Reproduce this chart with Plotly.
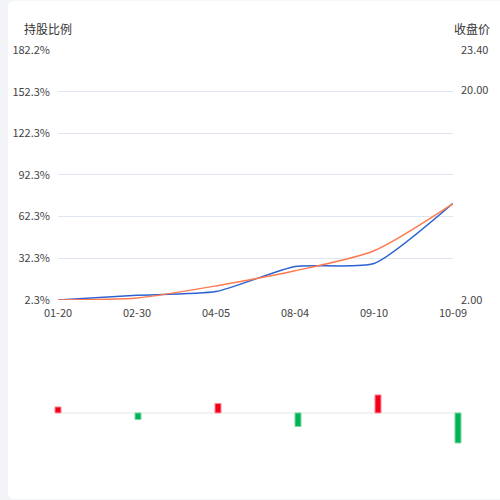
import plotly.graph_objects as go

# data
dates = ["01-20", "02-30", "04-05", "08-04", "09-10", "10-09"]
hold_ratio = [2.3, 5.6, 8.3, 26.4, 28.5, 71.9]       # 持股比例 (%)
close_price = [2.00, 2.17, 3.20, 4.49, 6.21, 10.25]  # 收盘价
ratio_change = [0.6, -0.65, 0.95, -1.35, 1.8, -3.0]

left_ticktext = ["2.3%", "32.3%", "62.3%", "92.3%", "122.3%", "152.3%", "182.2%"]
right_tickvals = [2.00, 20.00, 23.40]
right_ticktext = ["2.00", "20.00", "23.40"]

W, H = 500, 500
ML, MR, MT, MB = 50, 38, 50, 2
PW, PH = W - ML - MR, H - MT - MB
PAGE_BG = "#f3f4f8"
YS = 1.0163  # the page comes out a little squeezed vertically


def px_x(x):
    return (x - ML) / PW


def px_y(y):
    return (H - MB - y * YS) / PH


y_min, y_max = 2.3, 182.2
left_tickvals = [y_min + i * (y_max - y_min) / 6 for i in range(7)]

TEXT = "#444444"
FONT = "Noto Sans CJK SC"

fig = go.Figure()

fig.add_trace(go.Scatter(
    x=dates, y=hold_ratio, mode="lines",
    line=dict(color="#2c62d0", width=1.5, shape="spline", smoothing=0.55),
    xaxis="x", yaxis="y", name="持股比例", hoverinfo="skip",
))
fig.add_trace(go.Scatter(
    x=dates, y=close_price, mode="lines",
    line=dict(color="#ff7a50", width=1.5, shape="spline", smoothing=0.7),
    xaxis="x", yaxis="y2", name="收盘价", hoverinfo="skip",
))

bar_colors = ["#f5001a" if v >= 0 else "#00b356" for v in ratio_change]
edge_colors = ["#ff8a95" if v >= 0 else "#7ed6a4" for v in ratio_change]
fig.add_trace(go.Bar(
    x=dates, y=ratio_change, xaxis="x2", yaxis="y3", width=0.075,
    marker=dict(color=bar_colors, line=dict(color=edge_colors, width=1)),
    hoverinfo="skip",
))

# card background with rounded left corners
r = 7
x0, x1 = px_x(8), px_x(W + 5)
yt, yb = px_y(0), px_y(498)
rx, ry = r / PW, r / PH
card = (f"M {x1},{yt} L {x0 + rx},{yt} Q {x0},{yt} {x0},{yt - ry} "
        f"L {x0},{yb + ry} Q {x0},{yb} {x0 + rx},{yb} L {x1},{yb} Z")

fig.update_layout(
    width=W, height=H,
    margin=dict(l=ML, r=MR, t=MT, b=MB),
    paper_bgcolor=PAGE_BG,
    plot_bgcolor="rgba(0,0,0,0)",
    showlegend=False,
    font=dict(family=FONT, size=11, color=TEXT),
    xaxis=dict(
        domain=[px_x(58), px_x(453)], anchor="y", type="category",
        range=[0, 5], showgrid=False, showline=False, zeroline=False,
        ticks="", ticklabelstandoff=5, fixedrange=True,
    ),
    yaxis=dict(
        domain=[px_y(299), 1], anchor="x", range=[y_min, y_max],
        tickvals=left_tickvals, ticktext=left_ticktext,
        showgrid=True, gridcolor="#e0e6f1", gridwidth=1,
        zeroline=False, showline=False, ticks="", ticklabelstandoff=7,
        fixedrange=True,
    ),
    yaxis2=dict(
        overlaying="y", side="right", anchor="x", range=[2.0, 23.4],
        tickvals=right_tickvals, ticktext=right_ticktext,
        showgrid=False, zeroline=False, showline=False, ticks="",
        ticklabelstandoff=7, fixedrange=True,
    ),
    xaxis2=dict(
        domain=[0, 1], anchor="y3", type="category", range=[-0.1, 5.05],
        visible=False, fixedrange=True,
    ),
    yaxis3=dict(
        domain=[px_y(484), px_y(340)], anchor="x2", range=[-7.2, 7.2],
        visible=False, fixedrange=True,
    ),
    shapes=[
        dict(type="path", path=card, xref="paper", yref="paper",
             fillcolor="white", line=dict(width=0), layer="below"),
        dict(type="line", xref="x2", yref="y3", x0=-0.0125, x1=5.025,
             y0=0, y1=0, line=dict(color="#eeeeee", width=1.5), layer="below"),
    ],
    annotations=[
        dict(text="持股比例", xref="paper", yref="paper", x=px_x(48), y=px_y(28),
             xanchor="center", yanchor="middle", showarrow=False,
             font=dict(size=12, color="#333333")),
        dict(text="收盘价", xref="paper", yref="paper", x=px_x(472), y=px_y(28),
             xanchor="center", yanchor="middle", showarrow=False,
             font=dict(size=12, color="#333333")),
    ],
)

page_css = (f"document.body.style.margin = '0';"
            f"document.body.style.backgroundColor = '{PAGE_BG}';")
fig.write_html("out.html", post_script=[page_css],
               config={"displayModeBar": False})
